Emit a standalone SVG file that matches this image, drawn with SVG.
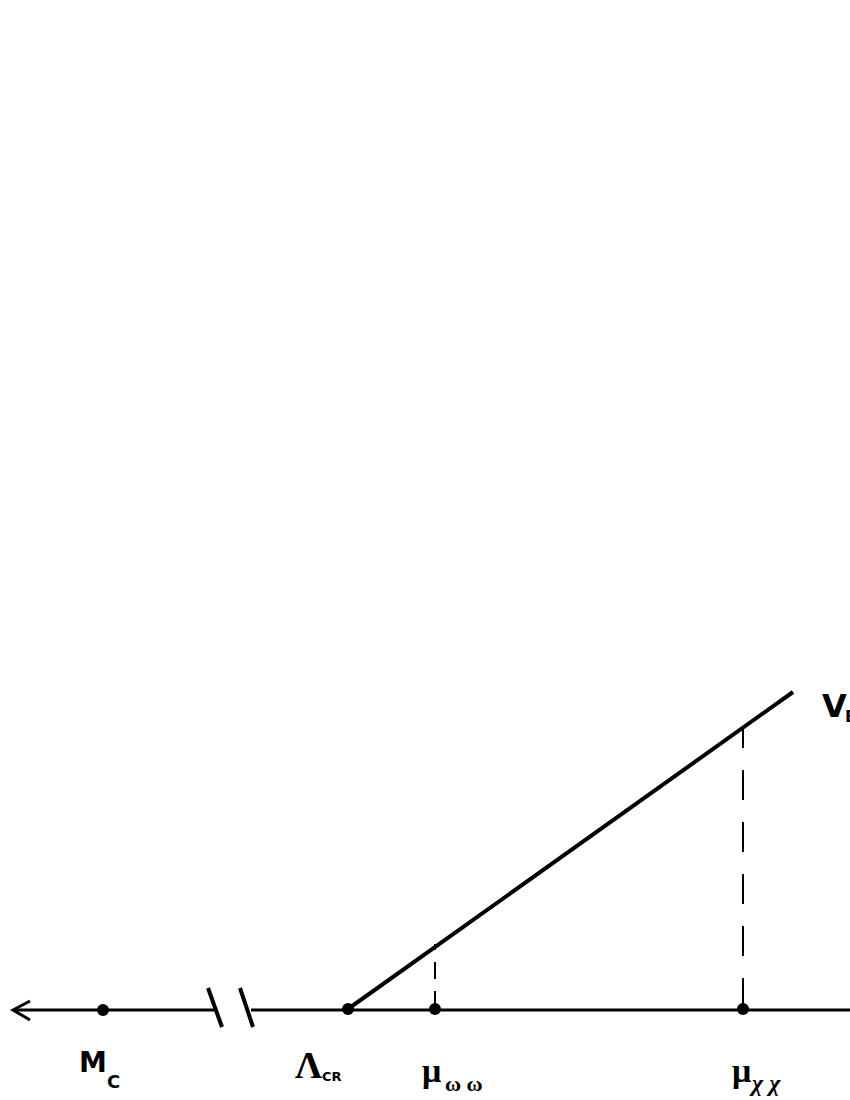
<svg xmlns="http://www.w3.org/2000/svg" width="850" height="1100" viewBox="0 0 850 1100">
<style>
.ln{stroke:#000;fill:none;stroke-linecap:butt}
.sans{font-family:"DejaVu Sans","Liberation Sans",sans-serif;font-weight:bold;fill:#000}
.serif{font-family:"Liberation Serif","DejaVu Serif",serif;font-weight:bold;fill:#000}
.dot{fill:#000}
</style>
<rect width="850" height="1100" fill="#fff"/>
<g id="connectors">
  <line class="ln" x1="14" y1="1010" x2="217" y2="1010" stroke-width="3"/>
  <line class="ln" x1="251" y1="1010" x2="850" y2="1010" stroke-width="3"/>
  <polyline class="ln" points="30,1001 13,1010 30,1020" stroke-width="3"/>
  <line class="ln" x1="208" y1="988" x2="222" y2="1027" stroke-width="4"/>
  <line class="ln" x1="240" y1="988" x2="253" y2="1027" stroke-width="4"/>
  <line class="ln" x1="348" y1="1009" x2="793" y2="692" stroke-width="4"/>
  <line class="ln" x1="435" y1="1008" x2="435" y2="944" stroke-width="2" stroke-dasharray="17 12"/>
  <line class="ln" x1="743" y1="1008" x2="743" y2="726" stroke-width="2" stroke-dasharray="30 22"/>
</g>
<g id="node-mc">
  <circle class="dot" cx="103" cy="1010" r="6"/>
  <text class="sans" x="79" y="1072" font-size="28">M</text>
  <text class="sans" x="107" y="1088" font-size="18">C</text>
</g>
<g id="node-lambda">
  <circle class="dot" cx="348" cy="1009" r="6"/>
  <text class="serif" x="295" y="1078" font-size="38" font-weight="normal">Λ</text>
  <text class="sans" x="322" y="1081" font-size="13">CR</text>
</g>
<g id="node-mu-omega">
  <circle class="dot" cx="435" cy="1009" r="6"/>
  <text class="serif" x="422" y="1082" font-size="34">μ</text>
  <text class="serif" x="445" y="1091" font-size="22">ω ω</text>
</g>
<g id="node-mu-chi">
  <circle class="dot" cx="743" cy="1009" r="6"/>
  <text class="serif" x="732" y="1082" font-size="34">μ</text>
  <text class="serif" x="752" y="1091" font-size="24" font-style="italic" font-weight="normal">χ χ</text>
</g>
<g id="node-ve">
  <text class="sans" x="822" y="717" font-size="32">V</text>
  <text class="sans" x="845" y="722" font-size="16">E</text>
</g>
</svg>
